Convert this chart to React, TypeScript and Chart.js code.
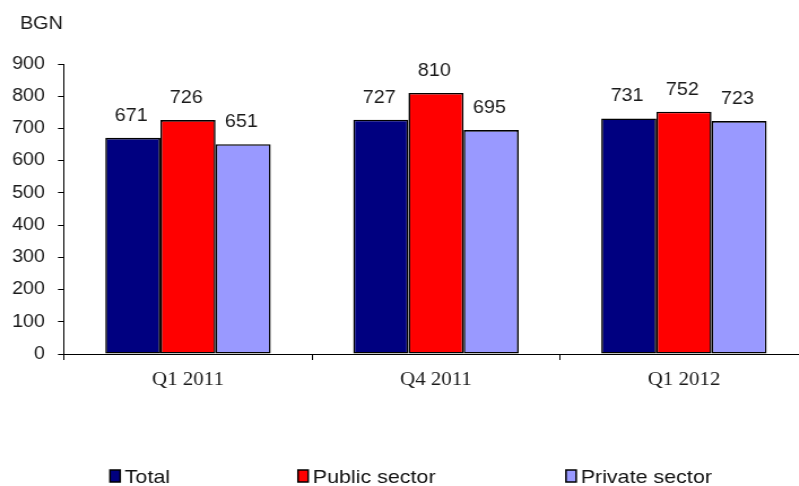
import React, { useEffect, useRef } from "react";
import { Chart, registerables } from "chart.js";

Chart.register(...registerables);

const categories = ["Q1 2011", "Q4 2011", "Q1 2012"];
const seriesNames = ["Total", "Public sector", "Private sector"];
const totalValues = [671, 727, 731];
const publicValues = [726, 810, 752];
const privateValues = [651, 695, 723];
const seriesColors = ["#000080", "#FF0000", "#9999FF"];
const yMin = 0;
const yMax = 900;
const yStep = 100;
const unitLabel = "BGN";

// horizontal stretch of the original picture
const SX = 1.13;
const CANVAS_W = 715;
const CANVAS_H = 486;

const SANS = "'Liberation Sans', Arial, sans-serif";
const SERIF = "'Liberation Serif', 'Times New Roman', serif";

const legendBoxX = [110, 298, 566];

const valueLabels = {
  id: "valueLabels",
  afterDatasetsDraw(chart: any) {
    const ctx = chart.ctx;
    ctx.save();
    ctx.font = `17.5px ${SANS}`;
    ctx.fillStyle = "#1a1a1a";
    ctx.textAlign = "center";
    ctx.textBaseline = "alphabetic";
    chart.data.datasets.forEach((ds: any, i: number) => {
      const meta = chart.getDatasetMeta(i);
      meta.data.forEach((bar: any, j: number) => {
        ctx.fillText(String(ds.data[j]), bar.x - 1.5, bar.y - 17);
      });
    });
    ctx.restore();
  },
};

const extras = {
  id: "extras",
  afterDraw(chart: any) {
    const ctx = chart.ctx;
    ctx.save();
    // unit label
    ctx.font = `17.5px ${SANS}`;
    ctx.fillStyle = "#1a1a1a";
    ctx.textAlign = "left";
    ctx.textBaseline = "alphabetic";
    ctx.fillText(unitLabel, 20 / SX, 29);
    // legend
    ctx.font = `19px ${SANS}`;
    chart.data.datasets.forEach((ds: any, i: number) => {
      const bx = legendBoxX[i] / SX;
      ctx.fillStyle = ds.backgroundColor;
      ctx.fillRect(bx, 470, 9, 12);
      ctx.strokeStyle = "#000";
      ctx.lineWidth = 1.5;
      ctx.strokeRect(bx, 470, 9, 12);
      ctx.fillStyle = "#111";
      ctx.fillText(ds.label, bx + 13, 483);
    });
    ctx.restore();
  },
};

export default function App() {
  const ref = useRef<HTMLCanvasElement | null>(null);

  useEffect(() => {
    if (!ref.current) return;
    const values = [totalValues, publicValues, privateValues];
    const chart = new Chart(ref.current, {
      type: "bar",
      data: {
        labels: categories,
        datasets: seriesNames.map((name, i) => ({
          label: name,
          data: values[i],
          backgroundColor: seriesColors[i],
          borderColor: "#000",
          borderWidth: 1.6,
          borderSkipped: false,
          categoryPercentage: 0.667,
          barPercentage: 1.0,
        })),
      },
      options: {
        animation: false,
        responsive: true,
        maintainAspectRatio: false,
        devicePixelRatio: 1,
        layout: { padding: { top: 64, left: 0, right: 0, bottom: 0 } },
        plugins: {
          legend: { display: false },
          tooltip: { enabled: false },
          title: { display: false },
        },
        scales: {
          x: {
            offset: true,
            grid: {
              display: true,
              offset: true,
              drawOnChartArea: false,
              drawTicks: true,
              tickLength: 6,
              color: "#000",
              lineWidth: 1,
            },
            border: { display: true, color: "#000", width: 1 },
            ticks: {
              color: "#1a1a1a",
              font: { family: SERIF, size: 18.5 },
              padding: 9,
              maxRotation: 0,
              autoSkip: false,
            },
            afterFit: (s: any) => {
              s.height = CANVAS_H - 354;
            },
          },
          y: {
            min: yMin,
            max: yMax,
            ticks: {
              stepSize: yStep,
              color: "#1a1a1a",
              font: { family: SANS, size: 17.5 },
              padding: 11.5,
            },
            grid: {
              drawOnChartArea: false,
              drawTicks: true,
              tickLength: 5.3,
              color: "#000",
              lineWidth: 1,
            },
            border: { display: true, color: "#000", width: 1 },
            afterFit: (s: any) => {
              s.width = 64 / SX;
            },
          },
        },
      },
      plugins: [valueLabels, extras],
    } as any);
    return () => chart.destroy();
  }, []);

  return (
    <div
      style={{
        position: "fixed",
        left: 0,
        top: 0,
        width: 799,
        height: 486,
        overflow: "hidden",
        background: "#fff",
      }}
    >
      <div
        style={{
          position: "relative",
          width: CANVAS_W,
          height: CANVAS_H,
          transform: `scaleX(${SX})`,
          transformOrigin: "0 0",
        }}
      >
        <canvas ref={ref} />
      </div>
    </div>
  );
}
